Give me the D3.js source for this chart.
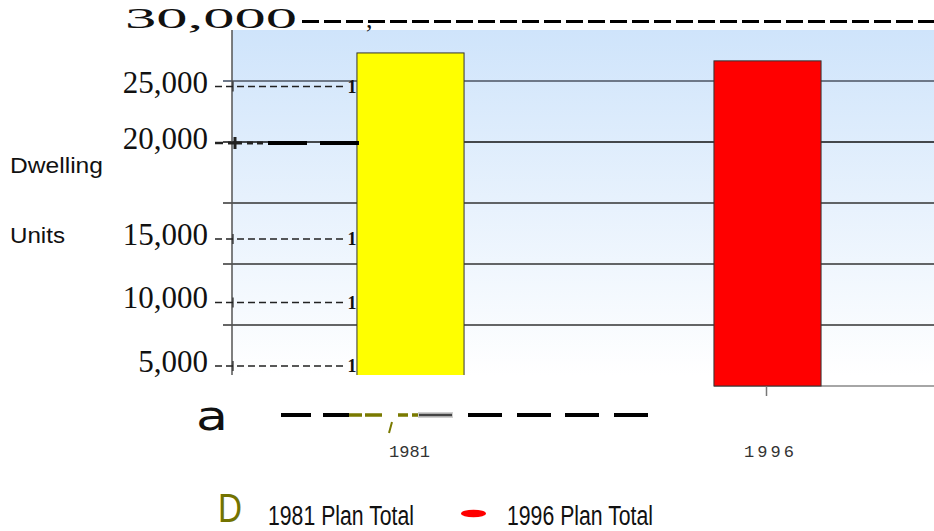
<!DOCTYPE html>
<html>
<head>
<meta charset="utf-8">
<script src="https://cdn.jsdelivr.net/npm/d3@7"></script>
<style>
html,body{margin:0;padding:0;background:#fff;}
svg{display:block;}
</style>
</head>
<body>
<svg id="chart" width="934" height="531"></svg>
<script>
// ---- data ----
const categories = ["1981", "1996"];
const values = [27300, 26650];
const barColors = ["#ffff00", "#ff0000"];
const yTicks = [25000, 20000, 15000, 10000, 5000];
const yTickLabels = ["25,000", "20,000", "15,000", "10,000", "5,000"];
const topTickValue = 30000;
const topTickLabel = "30,000";
const axisTitle = ["Dwelling", "Units"];
const legendLabels = ["1981 Plan Total", "1996 Plan Total"];
const legendMarks = ["D", ""];

// ---- layout ----
const svg = d3.select("#chart");
const plot = {left: 232, right: 946, top: 30, bottom: 375};

const y = d3.scaleLinear().domain([0, 30000]).range([386, 20]);
const x = d3.scaleBand().domain(categories).range([plot.left, plot.right])
  .paddingInner(0.7).paddingOuter(0.35);

// background gradient
const defs = svg.append("defs");
const grad = defs.append("linearGradient").attr("id", "bg").attr("x1", 0).attr("y1", 0).attr("x2", 0).attr("y2", 1);
grad.append("stop").attr("offset", "0%").attr("stop-color", "#cfe4fb");
grad.append("stop").attr("offset", "100%").attr("stop-color", "#ffffff");
defs.append("clipPath").attr("id", "plotClip").append("rect")
  .attr("x", plot.left).attr("y", 0).attr("width", 934 - plot.left).attr("height", plot.bottom);

svg.append("rect").attr("x", plot.left).attr("y", plot.top)
  .attr("width", 934 - plot.left).attr("height", plot.bottom - plot.top)
  .attr("fill", "url(#bg)");

// gridlines
const gridStyle = v => v === 25000 ? {c: "#6d7888", w: 2} : (v === 20000 ? {c: "#111", w: 1.6} : {c: "#333", w: 1.4});
svg.append("g").selectAll("line").data(yTicks).join("line")
  .attr("x1", 223).attr("x2", 934)
  .attr("y1", d => y(d)).attr("y2", d => y(d))
  .attr("stroke", d => gridStyle(d).c).attr("stroke-width", d => gridStyle(d).w);

// left axis line
svg.append("line").attr("x1", plot.left).attr("x2", plot.left)
  .attr("y1", plot.top).attr("y2", plot.bottom)
  .attr("stroke", "#555").attr("stroke-width", 1.5);

// baseline at right
svg.append("line").attr("x1", x("1996")).attr("x2", 934)
  .attr("y1", y(0)).attr("y2", y(0)).attr("stroke", "#888").attr("stroke-width", 1.5);

// bars
svg.append("g").selectAll("rect").data(categories).join("rect")
  .attr("x", d => x(d)).attr("width", x.bandwidth())
  .attr("y", (d, i) => y(values[i])).attr("height", (d, i) => y(0) - y(values[i]))
  .attr("fill", (d, i) => barColors[i])
  .attr("stroke", "#333").attr("stroke-width", 1)
  .attr("clip-path", (d, i) => i === 0 ? "url(#plotClip)" : null);

// y tick labels and leaders
const lowLabelY = d3.scaleLinear().domain([5000, 15000]).range([366, 239]);
const leaderY = v => v === 25000 ? y(v) + 5.5 : (v === 20000 ? y(v) + 1 : lowLabelY(v));
const lab = svg.append("g");
yTicks.forEach((v, i) => {
  const ly = leaderY(v);
  lab.append("text").attr("x", 208).attr("y", ly + (v >= 20000 ? 6 : 5.5))
    .attr("text-anchor", "end").attr("font-family", "Liberation Serif, serif")
    .attr("font-size", 31).attr("fill", "#111").text(yTickLabels[i]);
  if (v === 20000) {
    lab.append("line").attr("x1", 215).attr("x2", 223).attr("y1", ly).attr("y2", ly).attr("stroke", "#222").attr("stroke-width", 2.5);
    lab.append("line").attr("x1", 228).attr("x2", 242).attr("y1", ly).attr("y2", ly).attr("stroke", "#222").attr("stroke-width", 3);
    lab.append("line").attr("x1", 235).attr("x2", 235).attr("y1", ly - 6).attr("y2", ly + 6).attr("stroke", "#222").attr("stroke-width", 3);
    lab.append("line").attr("x1", 247).attr("x2", 263).attr("y1", ly).attr("y2", ly).attr("stroke", "#222").attr("stroke-width", 3).attr("stroke-dasharray", "6,4");
    lab.append("line").attr("x1", 268).attr("x2", x("1981") + 2).attr("y1", ly).attr("y2", ly).attr("stroke", "#000").attr("stroke-width", 4).attr("stroke-dasharray", "39,13");
  } else {
    lab.append("line").attr("x1", 215).attr("x2", 343).attr("y1", ly).attr("y2", ly)
      .attr("stroke", "#222").attr("stroke-width", 1.3).attr("stroke-dasharray", "7,4");
    lab.append("line").attr("x1", 233).attr("x2", 233).attr("y1", ly - 5).attr("y2", ly + 5).attr("stroke", "#222").attr("stroke-width", 1.2);
    lab.append("text").attr("x", 352).attr("y", ly + 6).attr("text-anchor", "middle")
      .attr("font-family", "Liberation Serif, serif").attr("font-weight", "bold")
      .attr("font-size", 18).attr("fill", "#111").text("1");
  }
});

// top label 30,000 with its dashed rule
svg.append("text").attr("x", 125).attr("y", y(topTickValue) + 8)
  .attr("font-family", "Liberation Serif, serif").attr("font-size", 30)
  .attr("textLength", 172).attr("lengthAdjust", "spacingAndGlyphs")
  .attr("fill", "#111").text(topTickLabel);
svg.append("line").attr("x1", 302).attr("x2", 934).attr("y1", y(topTickValue) + 1.5).attr("y2", y(topTickValue) + 1.5)
  .attr("stroke", "#000").attr("stroke-width", 3).attr("stroke-dasharray", "17,5");
svg.append("text").attr("x", 366).attr("y", y(topTickValue) + 8)
  .attr("font-family", "Liberation Serif, serif").attr("font-size", 26).attr("fill", "#111").text(",");

// axis title
svg.append("text").attr("x", 10).attr("y", 173).attr("font-family", "Liberation Sans, Arial, sans-serif")
  .attr("font-size", 22).attr("textLength", 93).attr("lengthAdjust", "spacingAndGlyphs").attr("fill", "#111").text(axisTitle[0]);
svg.append("text").attr("x", 10).attr("y", 243).attr("font-family", "Liberation Sans, Arial, sans-serif")
  .attr("font-size", 22).attr("textLength", 55).attr("lengthAdjust", "spacingAndGlyphs").attr("fill", "#111").text(axisTitle[1]);

// bottom decoration row
svg.append("text").attr("x", 196).attr("y", 430).attr("font-family", "DejaVu Sans, sans-serif")
  .attr("font-size", 40).attr("textLength", 32).attr("lengthAdjust", "spacingAndGlyphs").attr("fill", "#111").text("a");
svg.append("line").attr("x1", 281).attr("x2", 648).attr("y1", 415).attr("y2", 415)
  .attr("stroke", "#000").attr("stroke-width", 4).attr("stroke-dasharray", "30,12,26,119,34,15,34,14,34,15,34");
svg.append("line").attr("x1", 349).attr("x2", 418).attr("y1", 415).attr("y2", 415)
  .attr("stroke", "#7a7a00").attr("stroke-width", 3.5).attr("stroke-dasharray", "13,3,17,16,10,4,6");
svg.append("line").attr("x1", 418).attr("x2", 453).attr("y1", 415).attr("y2", 415)
  .attr("stroke", "#d0d0d0").attr("stroke-width", 6);
svg.append("line").attr("x1", 419).attr("x2", 452).attr("y1", 415).attr("y2", 415)
  .attr("stroke", "#444").attr("stroke-width", 2.5);
svg.append("line").attr("x1", 392).attr("x2", 389).attr("y1", 422).attr("y2", 433)
  .attr("stroke", "#7a7a00").attr("stroke-width", 2);

// x axis labels
svg.append("g").selectAll("text").data(categories).join("text")
  .attr("x", d => x(d) + x.bandwidth() / 2 + (d === "1996" ? 3 : -1)).attr("y", 457)
  .attr("text-anchor", "middle").attr("font-family", "Liberation Mono, monospace")
  .attr("font-size", 17).attr("fill", "#333")
  .attr("letter-spacing", d => d === "1996" ? 3 : 0)
  .text(d => d);
// tick for 1996
svg.append("line").attr("x1", x("1996") + x.bandwidth() / 2 - 1).attr("x2", x("1996") + x.bandwidth() / 2 - 1)
  .attr("y1", y(0)).attr("y2", y(0) + 10).attr("stroke", "#777").attr("stroke-width", 1.5);

// legend
svg.append("text").attr("x", 218).attr("y", 522).attr("font-family", "Liberation Sans, Arial, sans-serif")
  .attr("font-size", 41).attr("textLength", 24).attr("lengthAdjust", "spacingAndGlyphs")
  .attr("fill", "#737300").text(legendMarks[0]);
svg.append("ellipse").attr("cx", 473.5).attr("cy", 513.5).attr("rx", 12.5).attr("ry", 3.8).attr("fill", barColors[1]);
const legX = [268, 507];
legendLabels.forEach((t, i) => {
  svg.append("text").attr("x", legX[i]).attr("y", 525).attr("font-family", "Liberation Sans, Arial, sans-serif")
    .attr("font-size", 27).attr("textLength", 146).attr("lengthAdjust", "spacingAndGlyphs")
    .attr("fill", "#111").text(t);
});
</script>
</body>
</html>
